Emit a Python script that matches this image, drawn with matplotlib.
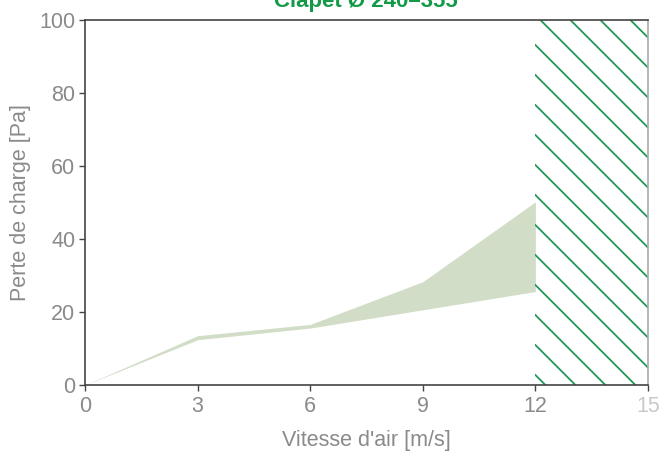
import matplotlib
matplotlib.use("Agg")
import matplotlib.pyplot as plt
import numpy as np

speed = [0, 3, 6, 9, 12]
loss_low = [0, 12.4, 15.6, 20.6, 25.6]
loss_high = [0, 13.5, 16.6, 28.3, 50.2]
xticks = [0, 3, 6, 9, 12, 15]
yticks = [0, 20, 40, 60, 80, 100]
title = "Clapet Ø 240–355"

plt.rcParams['font.family'] = ['Liberation Sans', 'DejaVu Sans']

W, H = 660, 453
fig = plt.figure(figsize=(W / 100, H / 100), dpi=100)
L, R, T, B = 85, 648, 20, 385
ax = fig.add_axes([L / W, 1 - B / H, (R - L) / W, (B - T) / H])

ax.fill_between(speed, loss_low, loss_high, color='#d2ddc8', lw=0)

# hatched zone beyond 12 m/s
ax.set_xlim(0, 15)
ax.set_ylim(0, 100)
aw, ah = R - L, B - T
x0 = (12 / 15) * aw
spacing = 30.0
clip = plt.Rectangle((0.8, 0), 0.2, 1, transform=ax.transAxes, fc='none', ec='none')
ax.add_patch(clip)
for c in np.arange(40 - 20 * spacing, ah + aw + spacing, spacing):
    xs = np.array([x0, x0 + ah + aw])
    ys = c - (xs - x0)
    ln, = ax.plot(xs / aw, ys / ah, transform=ax.transAxes, color='#23985a', lw=1.3)
    ln.set_clip_path(clip)

for s in ax.spines.values():
    s.set_color('#444444')
    s.set_linewidth(1.2)
ax.spines['right'].set_color('#aaaaaa')

ax.set_xticks(xticks)
ax.set_yticks(yticks)
ax.tick_params(direction='out', length=4, width=1, color='#444444',
               labelsize=15.5, labelcolor='#8a8a8a', pad=3)
ax.tick_params(axis='x', pad=4)
ax.get_xticklabels()[-1].set_color('#c8c8c8')
ax.set_xlabel("Vitesse d'air [m/s]", fontsize=15.5, color='#8a8a8a', labelpad=9)
ax.set_ylabel("Perte de charge [Pa]", fontsize=15.5, color='#8a8a8a', labelpad=6)

fig.text(366 / W, 1 - 7 / H, title, ha='center', va='baseline', fontsize=16,
         fontweight='bold', color='#129a48')

fig.savefig("out.png", dpi=100)
